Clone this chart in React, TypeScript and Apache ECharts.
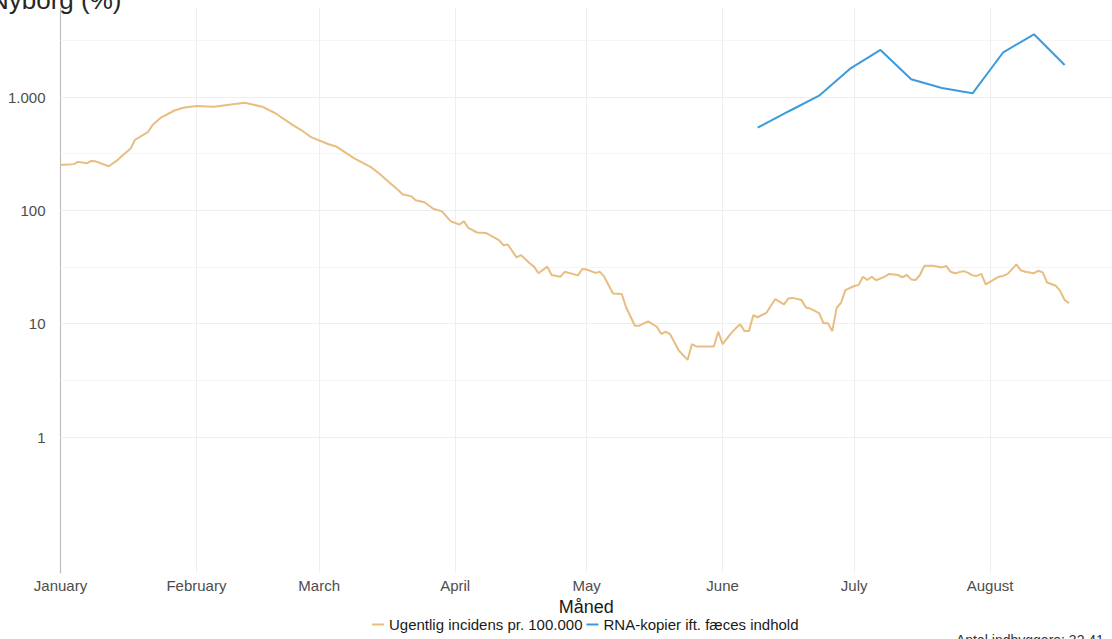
import { useEffect, useRef } from "react";
import * as echarts from "echarts";

// Ugentlig incidens pr. 100.000
const incDates = [
  "2021-01-01","2021-01-04","2021-01-05","2021-01-07","2021-01-08","2021-01-09","2021-01-12","2021-01-14","2021-01-15","2021-01-17","2021-01-18","2021-01-21","2021-01-22","2021-01-24","2021-01-27","2021-01-29",
  "2021-02-01","2021-02-05","2021-02-08","2021-02-12","2021-02-16","2021-02-19","2021-02-23","2021-02-25","2021-02-27",
  "2021-03-03","2021-03-05","2021-03-09","2021-03-13","2021-03-15","2021-03-17","2021-03-19","2021-03-20","2021-03-22","2021-03-23","2021-03-25","2021-03-27","2021-03-29","2021-03-31",
  "2021-04-02","2021-04-03","2021-04-04","2021-04-06","2021-04-08","2021-04-11","2021-04-12","2021-04-13","2021-04-15","2021-04-16","2021-04-18","2021-04-19","2021-04-20","2021-04-22","2021-04-23","2021-04-25","2021-04-26","2021-04-29","2021-04-30",
  "2021-05-01","2021-05-03","2021-05-04","2021-05-05","2021-05-07","2021-05-09","2021-05-10","2021-05-12","2021-05-13","2021-05-15","2021-05-17","2021-05-18","2021-05-19","2021-05-20","2021-05-22","2021-05-24","2021-05-25","2021-05-26","2021-05-30","2021-05-31",
  "2021-06-01","2021-06-03","2021-06-04","2021-06-05","2021-06-06","2021-06-07","2021-06-08","2021-06-09","2021-06-11","2021-06-13","2021-06-15","2021-06-16","2021-06-17","2021-06-19","2021-06-20","2021-06-21","2021-06-23","2021-06-24","2021-06-25","2021-06-26","2021-06-27","2021-06-28","2021-06-29",
  "2021-07-01","2021-07-02","2021-07-03","2021-07-04","2021-07-05","2021-07-06","2021-07-08","2021-07-09","2021-07-11","2021-07-12","2021-07-13","2021-07-14","2021-07-15","2021-07-16","2021-07-17","2021-07-19","2021-07-21","2021-07-22","2021-07-23","2021-07-24","2021-07-26","2021-07-27","2021-07-28","2021-07-29","2021-07-30","2021-07-31",
  "2021-08-03","2021-08-04","2021-08-05","2021-08-07","2021-08-08","2021-08-09","2021-08-11","2021-08-12","2021-08-13","2021-08-14","2021-08-16","2021-08-17","2021-08-18","2021-08-19",
];
const incValues = [
  251,256,268,260,273,271,245,278,302,352,420,494,566,663,761,806,
  833,822,852,891,822,720,566,509,446,
  385,364,288,238,206,176,151,139,133,123,118,103.5,98,80,
  75,80,70,63.8,63.2,54.6,49.3,50,38.5,40.3,34.2,31.9,27.9,31.9,26.9,26,28.7,26.7,30.4,
  30.1,28.1,28.7,26,18.5,18.3,13.9,9.6,9.6,10.5,9.4,8.1,8.5,8.1,5.8,4.79,6.6,6.3,6.3,8.5,
  6.6,8.3,9.1,9.9,8.6,8.6,11.9,11.4,12.5,16.5,14.8,16.7,16.9,16.2,13.9,13.6,12.4,10.1,10.1,8.6,13.8,15.3,19.8,
  21.5,21.9,26,24.3,26,24.2,26,27.5,26.9,25.7,26.9,24.6,24.3,26.9,32.4,32.4,31.4,32.4,28.7,27.9,29.1,28.1,26.7,26.4,27.5,22.2,
  26,26.4,27.5,33.4,29.6,28.7,27.9,29.3,28.4,23.1,21.6,19.4,16.2,15.2,
];

// RNA-kopier ift. fæces indhold
const rnaDates = ["2021-06-09","2021-06-16","2021-06-23","2021-06-30","2021-07-07","2021-07-14","2021-07-21","2021-07-28","2021-08-04","2021-08-11","2021-08-18"];
const rnaValues = [537, 746, 1028, 1770, 2606, 1436, 1203, 1079, 2485, 3581, 1919];

const monthStarts = ["2021-01-01","2021-02-01","2021-03-01","2021-04-01","2021-05-01","2021-06-01","2021-07-01","2021-08-01"];
const monthLabels = ["January","February","March","April","May","June","July","August"];
const yTicks = [1, 10, 100, 1000];
const yMinorTicks = [3.162, 31.62, 316.2, 3162];

const seriesNames = ["Ugentlig incidens pr. 100.000", "RNA-kopier ift. fæces indhold"];
const yTitle = "Nyborg (%)";
const xTitle = "Måned";
const caption = "Antal indbyggere: 32.41";

const FONT = "Liberation Sans, Arial, sans-serif";
const DAY = 86400000;

function ts(d: string): number {
  const [y, m, dd] = d.split("-").map(Number);
  return new Date(y, m - 1, dd).getTime();
}

function fmtThousands(v: number): string {
  const s = String(Math.round(v));
  return s.replace(/\B(?=(\d{3})+(?!\d))/g, ".");
}

export default function App() {
  const ref = useRef<HTMLDivElement>(null);

  useEffect(() => {
    if (!ref.current) return;
    const chart = echarts.init(ref.current, undefined, { renderer: "svg" });
    const monthTs = monthStarts.map(ts);
    const start = monthTs[0];
    const xMax = start + 239.8 * DAY;

    chart.setOption({
      animation: false,
      backgroundColor: "#ffffff",
      textStyle: { fontFamily: FONT },
      grid: { left: 60.5, right: 0, top: 8, bottom: 66, containLabel: false },
      legend: {
        data: seriesNames,
        left: 372,
        top: 617,
        padding: 0,
        itemWidth: 12,
        itemHeight: 2,
        itemGap: 4,
        icon: "rect",
        textStyle: { fontSize: 15, color: "#1a1a1a", fontFamily: FONT },
      },
      xAxis: {
        type: "value",
        min: start,
        max: xMax,
        axisLine: { show: false },
        axisTick: { show: false },
        splitLine: { show: false },
        axisLabel: {
          customValues: monthTs,
          formatter: (v: number) => monthLabels[new Date(v).getMonth()],
          color: "#4d4d4d",
          fontSize: 15,
          margin: 5,
          fontFamily: FONT,
          hideOverlap: false,
        },
        name: xTitle,
        nameLocation: "middle",
        nameGap: 21,
        nameTextStyle: { fontSize: 18, color: "#1a1a1a", fontFamily: FONT },
      },
      yAxis: {
        type: "log",
        logBase: 10,
        min: 0.0631,
        max: 6109,
        axisLine: { show: true, lineStyle: { color: "#bdbdbd", width: 1.2 } },
        axisTick: { show: false },
        splitLine: { show: false },
        minorSplitLine: { show: false },
        axisLabel: {
          customValues: yTicks,
          formatter: (v: number) => fmtThousands(v),
          color: "#4d4d4d",
          fontSize: 15,
          margin: 15,
          fontFamily: FONT,
        },
      },
      graphic: [
        {
          type: "text",
          left: -10,
          top: -13,
          style: { text: yTitle, fontSize: 26, fill: "#262626", fontFamily: FONT },
        },
        {
          type: "text",
          left: 956,
          top: 633,
          style: { text: caption, fontSize: 14, fill: "#333333", fontFamily: FONT },
        },
      ],
      series: [
        {
          type: "line",
          name: "grid",
          data: [[monthTs[0], yTicks[0]]],
          symbol: "none",
          lineStyle: { opacity: 0 },
          silent: true,
          z: 0,
          markLine: {
            silent: true,
            symbol: ["none", "none"],
            label: { show: false },
            lineStyle: { color: "#eeeeee", width: 1, type: "solid" },
            emphasis: { disabled: true },
            data: [
              ...yTicks.map((v) => ({ yAxis: v })),
              ...yMinorTicks.map((v) => ({ yAxis: v, lineStyle: { color: "#f5f5f5", width: 1, type: "solid" } })),
              ...monthTs.slice(1).map((t) => ({ xAxis: t })),
            ],
          },
        },
        {
          type: "line",
          name: seriesNames[0],
          data: incDates.map((d, i) => [ts(d), incValues[i]]),
          symbol: "none",
          smooth: false,
          z: 10,
          color: "#E8BD80",
          lineStyle: { color: "#E8BD80", width: 2 },
        },
        {
          type: "line",
          name: seriesNames[1],
          data: rnaDates.map((d, i) => [ts(d), rnaValues[i]]),
          symbol: "none",
          smooth: false,
          z: 10,
          color: "#3B9BDB",
          lineStyle: { color: "#3B9BDB", width: 2 },
        },
      ],
    });

    return () => chart.dispose();
  }, []);

  return (
    <div
      ref={ref}
      style={{ position: "fixed", left: 0, top: 0, width: 1112, height: 639 }}
    />
  );
}
